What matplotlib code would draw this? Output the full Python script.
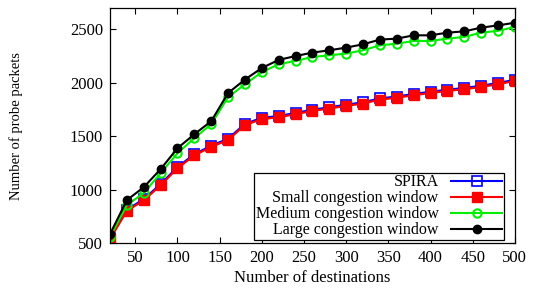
import numpy as np
import matplotlib.pyplot as plt

# destinations (x) and probe packet counts per configuration
destinations = np.arange(20, 501, 20)

spira = [548, 812, 912, 1052, 1212, 1332, 1412, 1477, 1617, 1672, 1690, 1718, 1749,
         1771, 1796, 1818, 1855, 1872, 1896, 1917, 1936, 1952, 1973, 1999, 2029]
small_cw = [537, 800, 900, 1040, 1200, 1320, 1400, 1465, 1605, 1660, 1678, 1706, 1737,
            1759, 1784, 1806, 1843, 1860, 1884, 1905, 1924, 1940, 1961, 1987, 2017]
medium_cw = [556, 855, 968, 1154, 1341, 1482, 1613, 1865, 1987, 2099, 2175, 2205, 2242,
             2258, 2274, 2305, 2351, 2367, 2392, 2392, 2414, 2430, 2470, 2487, 2524]
large_cw = [584, 902, 1023, 1192, 1388, 1519, 1641, 1905, 2031, 2139, 2215, 2251, 2283,
            2305, 2330, 2361, 2405, 2414, 2445, 2445, 2470, 2482, 2517, 2538, 2563]

x_ticks = [50, 100, 150, 200, 250, 300, 350, 400, 450, 500]
y_ticks = [500, 1000, 1500, 2000, 2500]

plt.rcParams['font.family'] = ['Liberation Serif', 'DejaVu Serif']
plt.rcParams['font.size'] = 12

fig = plt.figure(figsize=(5.38, 2.89), dpi=100)
ax = fig.add_axes([0.2045, 0.159, 0.7525, 0.813])

ax.plot(destinations, spira, color='#0000ff', lw=1.5, marker='s', ms=7,
        mfc='none', mec='#0000ff', mew=1.2, label='SPIRA')
ax.plot(destinations, small_cw, color='#ff0000', lw=1.5, marker='s', ms=7,
        mfc='#ff0000', mec='#ff0000', label='Small congestion window')
ax.plot(destinations, medium_cw, color='#00ee00', lw=1.5, marker='o', ms=6,
        mfc='none', mec='#00ee00', mew=1.5, label='Medium congestion window')
ax.plot(destinations, large_cw, color='black', lw=1.5, marker='o', ms=6,
        mfc='black', mec='black', label='Large congestion window')

ax.set_xlim(20, 500)
ax.set_ylim(500, 2700)
ax.set_xticks(x_ticks)
ax.set_yticks(y_ticks)
ax.tick_params(direction='in', top=True, right=True, length=4, width=0.8,
               labelsize=12, pad=5)
for s in ax.spines.values():
    s.set_linewidth(0.9)

ax.set_xlabel('Number of destinations', fontsize=12, labelpad=3)
ax.set_ylabel('Number of probe packets', fontsize=10.5)
ax.yaxis.set_label_coords(-0.215, 0.5)

leg = ax.legend(loc='lower right', bbox_to_anchor=(504 / 538, 1 - 240 / 289),
                bbox_transform=fig.transFigure, borderaxespad=0, markerfirst=False,
                fancybox=False, edgecolor='black', framealpha=1, handlelength=3.2,
                labelspacing=0.0, borderpad=0.1, handletextpad=0.8, fontsize=11.5)
leg.get_frame().set_linewidth(0.9)

fig.savefig('out.png', dpi=100)
